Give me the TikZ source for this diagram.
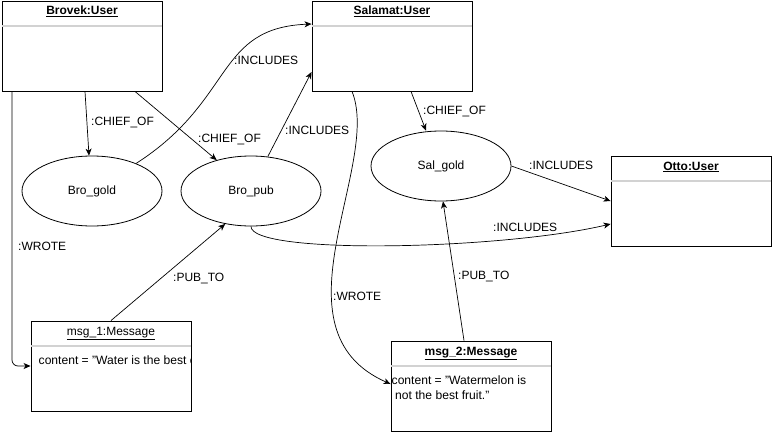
\documentclass[tikz,border=0pt]{standalone}
\usepackage{fontspec}
\setmainfont{Liberation Sans}
\usepackage{tikz}
\usetikzlibrary{arrows.meta}
\usetikzlibrary{positioning}
\usetikzlibrary{shapes.geometric}

\tikzset{
  objbox/.style={draw, line width=0.9pt, minimum width=160pt, minimum height=90pt, inner sep=0pt},
  objtitle/.style={anchor=base, inner sep=0pt, font=\fontsize{12}{14}\selectfont\bfseries},
  role/.style={draw, ellipse, line width=0.8pt, minimum width=140pt, minimum height=70pt, inner sep=0pt, font=\fontsize{12}{14}\selectfont},
  lbl/.style={anchor=base west, inner sep=0pt, font=\fontsize{12}{14}\selectfont},
  attr/.style={anchor=base west, inner sep=0pt, font=\fontsize{12.1}{14}\selectfont},
  sepline/.style={gray!35, line width=1.8pt},
  rel/.style={-{Stealth[length=7pt, width=6pt, inset=2pt]}, line width=0.7pt},
}

\begin{document}
\begin{tikzpicture}[x=1pt, y=-1pt]
\useasboundingbox (0,0) rectangle (773,436);

\node[objbox] (brovek) at (82,46) {};
\node[objbox] (salamat) at (392,46) {};
\node[objbox] (otto) at (691,201) {};
\node[objbox] (msg1) at (111,366) {};
\node[objbox] (msg2) at (471,386) {};

\node[objtitle] (brovektitle) at (82,15) {\underline{Brovek:User}};
\node[objtitle] (salamattitle) at (392,15) {\underline{Salamat:User}};
\node[objtitle] (ottotitle) at (691,170) {\underline{Otto:User}};
\node[objtitle, font=\fontsize{12}{14}\selectfont] (msg1title) at (111,335) {\underline{msg\_1:Message}};
\node[objtitle] (msg2title) at (471,355) {\underline{msg\_2:Message}};

\draw[sepline] ([yshift=-25.5pt]brovek.north west) -- ([yshift=-25.5pt]brovek.north east);
\draw[sepline] ([yshift=-25.5pt]salamat.north west) -- ([yshift=-25.5pt]salamat.north east);
\draw[sepline] ([yshift=-25.5pt]otto.north west) -- ([yshift=-25.5pt]otto.north east);
\draw[sepline] ([yshift=-25.5pt]msg1.north west) -- ([yshift=-25.5pt]msg1.north east);
\draw[sepline] ([yshift=-25.5pt]msg2.north west) -- ([yshift=-25.5pt]msg2.north east);

\begin{scope}
\clip (msg1.north west) rectangle (msg1.south east);
\node[attr] (msg1content) at (38.5,364) {content = "Water is the best c};
\end{scope}
\node[attr] (msg2content) at (391.5,384) {content = "Watermelon is};
\node[attr] (msg2more) at (395,399) {not the best fruit."};

\node[role] (brogold) at (92,191) {Bro\_gold};
\node[role] (bropub) at (251,191) {Bro\_pub};
\node[role] (salgold) at (441,166) {Sal\_gold};

\draw[rel] ([xshift=3pt]brovek.south) -- ([xshift=-3pt]brogold.north);
\draw[rel] ([xshift=53pt]brovek.south) -- (bropub.138);
\draw[rel] (brogold.32) .. controls (235,100) and (215,28) .. ([yshift=22pt]salamat.west);
\draw[rel] (bropub.64) -- ([yshift=-26pt]salamat.west);
\draw[rel] (bropub.south) .. controls (251,255) and (500,250) .. ([yshift=-23pt]otto.west);
\draw[rel] ([xshift=19pt]salamat.south) -- ([xshift=-15pt]salgold.north);
\draw[rel] (salgold.east) -- (otto.west);
\draw[rel] ([xshift=-40pt]salamat.south) .. controls (382,165) and (268,330) .. ([yshift=2pt]msg2.west);
\draw[rel] ([xshift=-7pt]msg2.north) -- ([xshift=2pt]salgold.south);
\draw[rel] (msg1.north) -- (bropub.232);
\draw[rel, rounded corners=6pt] ([xshift=-70pt]brovek.south) |- (msg1.west);

\node[lbl] (chiefgold) at (91,125) {:CHIEF\_OF};
\node[lbl] (chiefpub) at (198,142) {:CHIEF\_OF};
\node[lbl] (inclgold) at (234,64) {:INCLUDES};
\node[lbl] (inclpub) at (285,134) {:INCLUDES};
\node[lbl] (inclotto) at (493,231) {:INCLUDES};
\node[lbl] (chiefsal) at (423,114) {:CHIEF\_OF};
\node[lbl] (inclsal) at (529,169) {:INCLUDES};
\node[lbl] (wrotesal) at (333,300) {:WROTE};
\node[lbl] (pubsal) at (458,279) {:PUB\_TO};
\node[lbl] (pubbro) at (173,281) {:PUB\_TO};
\node[lbl] (wrotebro) at (18,250) {:WROTE};

\end{tikzpicture}
\end{document}
